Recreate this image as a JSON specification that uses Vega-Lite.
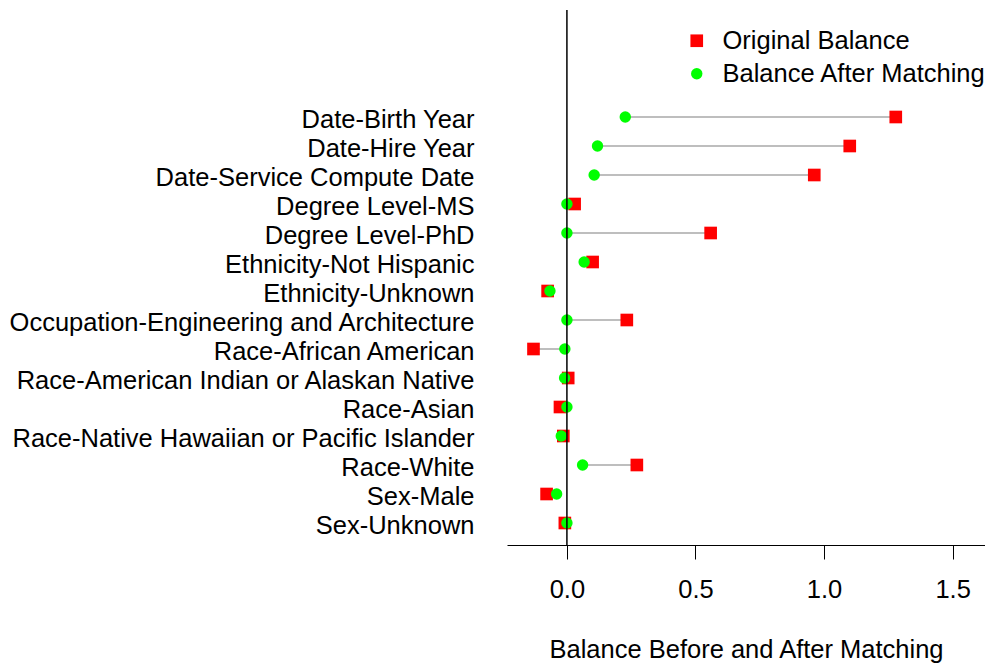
{
  "$schema": "https://vega.github.io/schema/vega-lite/v6.json",
  "width": 478,
  "height": 535,
  "autosize": {"type": "none"},
  "padding": {"left": 507, "top": 10, "right": 0, "bottom": 119},
  "background": "white",
  "config": {
    "view": {"stroke": null},
    "font": "Liberation Sans"
  },
  "data": {
    "values": [
      {"var": "Date-Birth Year", "Original Balance": 1.279, "Balance After Matching": 0.227},
      {"var": "Date-Hire Year", "Original Balance": 1.100, "Balance After Matching": 0.119},
      {"var": "Date-Service Compute Date", "Original Balance": 0.962, "Balance After Matching": 0.106},
      {"var": "Degree Level-MS", "Original Balance": 0.030, "Balance After Matching": 0.0},
      {"var": "Degree Level-PhD", "Original Balance": 0.559, "Balance After Matching": 0.0},
      {"var": "Ethnicity-Not Hispanic", "Original Balance": 0.100, "Balance After Matching": 0.067},
      {"var": "Ethnicity-Unknown", "Original Balance": -0.075, "Balance After Matching": -0.066},
      {"var": "Occupation-Engineering and Architecture", "Original Balance": 0.233, "Balance After Matching": 0.0},
      {"var": "Race-African American", "Original Balance": -0.130, "Balance After Matching": -0.008},
      {"var": "Race-American Indian or Alaskan Native", "Original Balance": 0.005, "Balance After Matching": -0.009},
      {"var": "Race-Asian", "Original Balance": -0.027, "Balance After Matching": 0.0},
      {"var": "Race-Native Hawaiian or Pacific Islander", "Original Balance": -0.014, "Balance After Matching": -0.022},
      {"var": "Race-White", "Original Balance": 0.272, "Balance After Matching": 0.061},
      {"var": "Sex-Male", "Original Balance": -0.079, "Balance After Matching": -0.040},
      {"var": "Sex-Unknown", "Original Balance": -0.008, "Balance After Matching": 0.0}
    ]
  },
  "encoding": {
    "y": {
      "field": "var",
      "type": "nominal",
      "sort": null,
      "scale": {"type": "point", "range": [107, 513], "padding": 0},
      "axis": {
        "domain": false,
        "ticks": false,
        "title": null,
        "labelFontSize": 25.5,
        "labelColor": "#000000",
        "labelPadding": 33,
        "labelOffset": 2,
        "labelLimit": 1000
      }
    }
  },
  "layer": [
    {
      "mark": {"type": "rule", "color": "#bebebe", "strokeWidth": 2},
      "encoding": {
        "x": {
          "field": "Original Balance",
          "type": "quantitative",
          "title": "Balance Before and After Matching",
          "scale": {"domain": [-0.233, 1.626], "nice": false, "zero": false}
        },
        "x2": {"field": "Balance After Matching"}
      }
    },
    {
      "transform": [{"fold": ["Original Balance", "Balance After Matching"], "as": ["key", "value"]}],
      "mark": {"type": "point", "filled": true, "opacity": 1},
      "encoding": {
        "x": {
          "field": "value",
          "type": "quantitative",
          "title": "Balance Before and After Matching",
          "scale": {"domain": [-0.233, 1.626], "nice": false, "zero": false},
          "axis": {
            "values": [0, 0.5, 1, 1.5],
            "format": ".1f",
            "grid": false,
            "domainColor": "#000000",
            "tickColor": "#000000",
            "tickSize": 14,
            "labelFontSize": 25.5,
            "labelColor": "#000000",
            "labelPadding": 18,
            "titleFontSize": 25.5,
            "titleFontWeight": "normal",
            "titleColor": "#000000",
            "titlePadding": 35
          }
        },
        "color": {
          "field": "key",
          "type": "nominal",
          "scale": {"domain": ["Original Balance", "Balance After Matching"], "range": ["#ff0000", "#00ff00"]},
          "legend": {
            "orient": "none",
            "legendX": 177,
            "legendY": 18,
            "padding": 0,
            "title": null,
            "labelFontSize": 25.5,
            "labelColor": "#000000",
            "labelOffset": 13,
            "labelLimit": 1000,
            "symbolSize": 110,
            "symbolStrokeWidth": 0,
            "rowPadding": 6
          }
        },
        "shape": {
          "field": "key",
          "type": "nominal",
          "scale": {"domain": ["Original Balance", "Balance After Matching"], "range": ["square", "circle"]},
          "legend": {
            "orient": "none",
            "legendX": 177,
            "legendY": 18,
            "padding": 0,
            "title": null,
            "labelFontSize": 25.5,
            "labelColor": "#000000",
            "labelOffset": 13,
            "labelLimit": 1000,
            "symbolSize": 110,
            "symbolStrokeWidth": 0,
            "rowPadding": 6
          }
        },
        "size": {
          "field": "key",
          "type": "nominal",
          "scale": {"domain": ["Original Balance", "Balance After Matching"], "range": [160, 130]},
          "legend": null
        }
      }
    },
    {
      "data": {"values": [{}]},
      "mark": {"type": "rule", "color": "#000000", "strokeWidth": 1.5},
      "encoding": {"x": {"datum": 0, "type": "quantitative"}, "y": null}
    }
  ]
}
